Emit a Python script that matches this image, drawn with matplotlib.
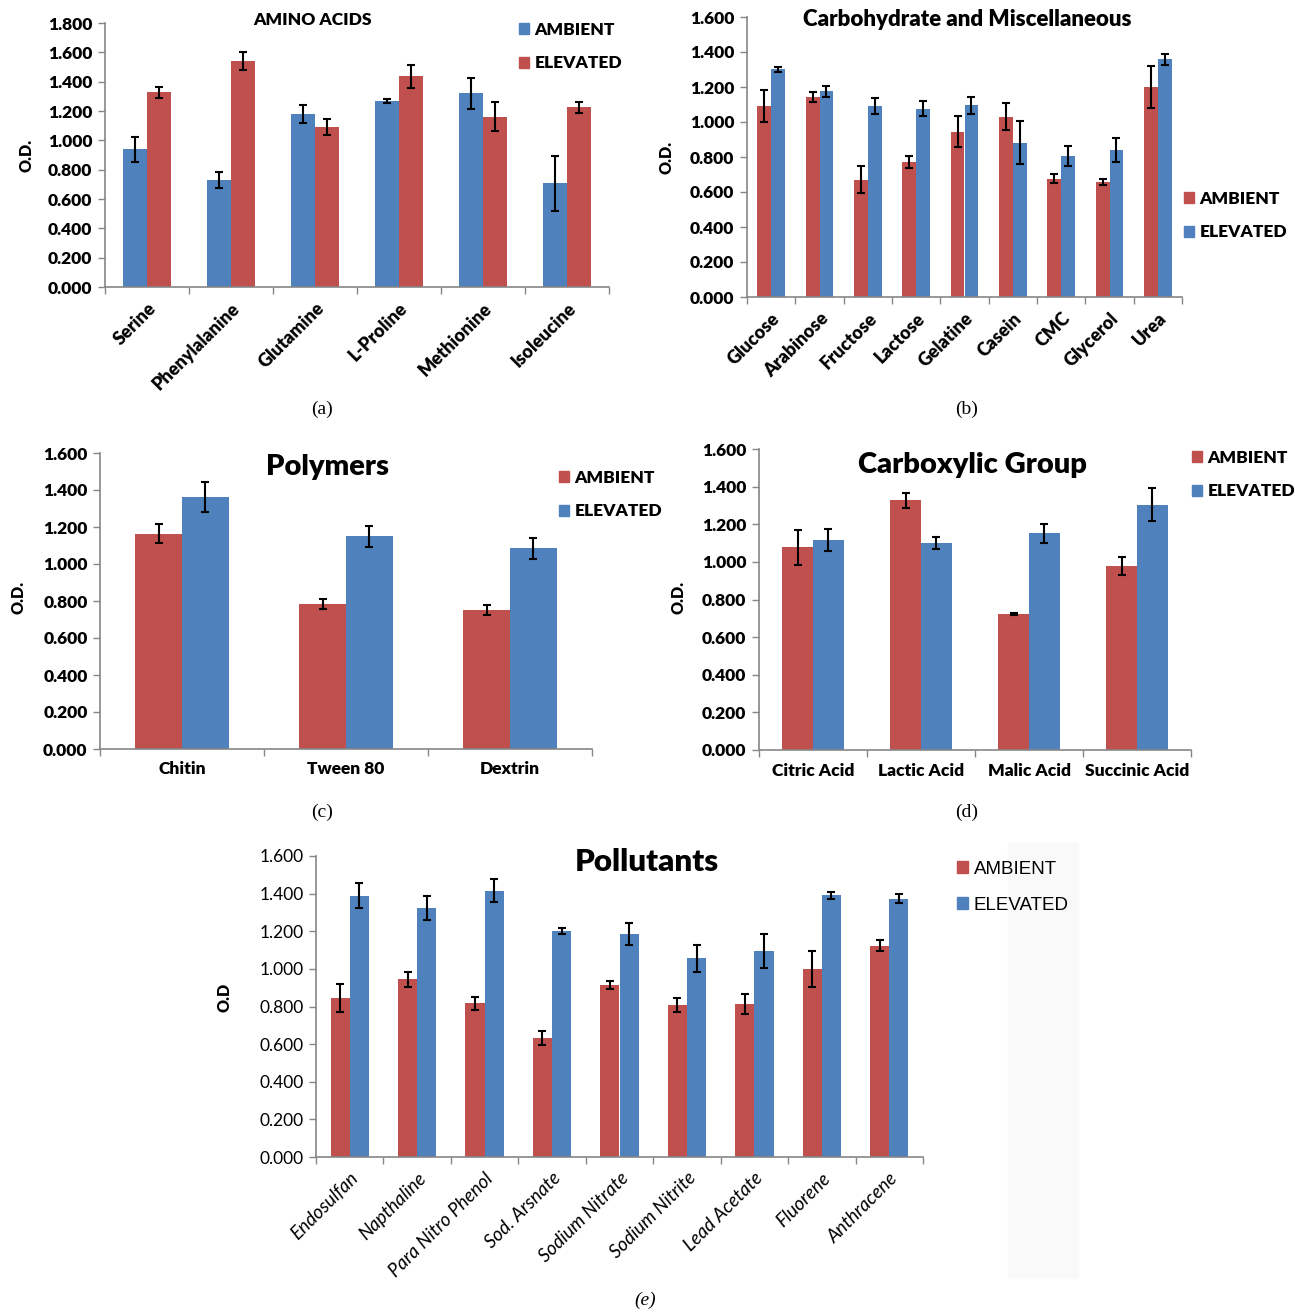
import numpy as np
import matplotlib
matplotlib.use('Agg')
import matplotlib.pyplot as plt
from matplotlib.patches import Rectangle, Patch
from matplotlib import font_manager as fm

W, H = 1295, 1314
RED = '#C0504D'
BLUE = '#4F81BD'
AXC = '#868686'
BOLD = 'heavy'


def pick_family():
    # want a family that really has a heavy face
    for fam in ['Lato', 'Open Sans', 'Roboto', 'Noto Sans', 'Liberation Sans']:
        try:
            f = fm.findfont(fm.FontProperties(family=fam, weight=BOLD), fallback_to_default=False)
        except Exception:
            continue
        name = f.lower().replace('semibold', '')
        if 'bold' in name or 'black' in name or 'heavy' in name:
            return fam
    return 'DejaVu Sans'


FONT = [pick_family(), 'DejaVu Sans']

# (a) amino acids
amino_names = ['Serine', 'Phenylalanine', 'Glutamine', 'L-Proline', 'Methionine', 'Isoleucine']
amino_ambient = [0.939, 0.727, 1.178, 1.267, 1.321, 0.706]
amino_ambient_err = [0.085, 0.055, 0.060, 0.015, 0.107, 0.187]
amino_elevated = [1.328, 1.540, 1.091, 1.438, 1.162, 1.226]
amino_elevated_err = [0.038, 0.063, 0.055, 0.079, 0.100, 0.038]

# (b) carbohydrate and miscellaneous
carb_names = ['Glucose', 'Arabinose', 'Fructose', 'Lactose', 'Gelatine', 'Casein', 'CMC', 'Glycerol', 'Urea']
carb_ambient = [1.091, 1.143, 0.669, 0.771, 0.945, 1.029, 0.676, 0.657, 1.200]
carb_ambient_err = [0.090, 0.030, 0.077, 0.035, 0.087, 0.077, 0.025, 0.015, 0.119]
carb_elevated = [1.301, 1.175, 1.091, 1.076, 1.095, 0.882, 0.806, 0.840, 1.358]
carb_elevated_err = [0.015, 0.030, 0.044, 0.044, 0.048, 0.121, 0.055, 0.067, 0.030]

# (c) polymers
poly_names = ['Chitin', 'Tween 80', 'Dextrin']
poly_ambient = [1.163, 0.784, 0.753]
poly_ambient_err = [0.052, 0.029, 0.027]
poly_elevated = [1.363, 1.149, 1.084]
poly_elevated_err = [0.080, 0.055, 0.058]

# (d) carboxylic group
carbox_names = ['Citric Acid', 'Lactic Acid', 'Malic Acid', 'Succinic Acid']
carbox_ambient = [1.077, 1.327, 0.722, 0.977]
carbox_ambient_err = [0.095, 0.038, 0.005, 0.049]
carbox_elevated = [1.116, 1.102, 1.151, 1.304]
carbox_elevated_err = [0.060, 0.031, 0.050, 0.087]

# (e) pollutants
poll_names = ['Endosulfan', 'Napthaline', 'Para Nitro Phenol', 'Sod. Arsnate', 'Sodium Nitrate',
              'Sodium Nitrite', 'Lead Acetate', 'Fluorene', 'Anthracene']
poll_ambient = [0.845, 0.944, 0.817, 0.631, 0.914, 0.808, 0.813, 1.000, 1.123]
poll_ambient_err = [0.072, 0.040, 0.035, 0.038, 0.020, 0.038, 0.052, 0.097, 0.030]
poll_elevated = [1.388, 1.324, 1.416, 1.200, 1.186, 1.056, 1.096, 1.391, 1.374]
poll_elevated_err = [0.067, 0.065, 0.063, 0.017, 0.058, 0.073, 0.092, 0.017, 0.022]


def px_axes(fig, x0, y0, x1, y1):
    return fig.add_axes([x0 / W, 1 - y1 / H, (x1 - x0) / W, (y1 - y0) / H])


def draw_panel(fig, box, names, amb, amb_err, elev, elev_err, ymax, colors,
               rot=45, tick_weight=BOLD, tick_style='normal', tick_size=12.5, ytick_weight=BOLD):
    ax = px_axes(fig, *box)
    n = len(names)
    x = np.arange(n) + 0.5
    w = 0.285
    ax.bar(x - w / 2, amb, w, color=colors[0], zorder=2)
    ax.bar(x + w / 2, elev, w, color=colors[1], zorder=2)
    ax.errorbar(x - w / 2, amb, yerr=amb_err, fmt='none', ecolor='black', elinewidth=1.5,
                capsize=3, capthick=1.5, zorder=3)
    ax.errorbar(x + w / 2, elev, yerr=elev_err, fmt='none', ecolor='black', elinewidth=1.5,
                capsize=3, capthick=1.5, zorder=3)
    ax.set_xlim(0, n)
    ax.set_ylim(0, ymax)
    yt = np.arange(0, ymax + 0.001, 0.2)
    ax.set_yticks(yt)
    ax.set_yticklabels(['%.3f' % v for v in yt], fontfamily=FONT, fontweight=ytick_weight, fontsize=12.5)
    ax.set_xticks(np.arange(n + 1))
    ax.set_xticklabels([])
    ax.set_xticks(x, minor=True)
    if rot:
        ax.set_xticklabels(names, minor=True, rotation=rot, ha='right', rotation_mode='anchor',
                           fontfamily=FONT, fontweight=tick_weight, fontstyle=tick_style, fontsize=tick_size)
    else:
        ax.set_xticklabels(names, minor=True, fontfamily=FONT, fontweight=tick_weight, fontsize=tick_size)
    ax.tick_params(axis='x', which='minor', length=0, pad=9)
    ax.tick_params(axis='both', which='major', length=5, color=AXC, width=1, pad=4)
    for s in ['top', 'right']:
        ax.spines[s].set_visible(False)
    for s in ['left', 'bottom']:
        ax.spines[s].set_color(AXC)
        ax.spines[s].set_linewidth(1.2)
    return ax


def legend(fig, ax, x, y, colors, size=12.5, weight=BOLD, family=None):
    handles = [Patch(color=colors[0], label='AMBIENT'), Patch(color=colors[1], label='ELEVATED')]
    ax.legend(handles=handles, loc='upper left', bbox_to_anchor=(x / W, 1 - y / H),
              bbox_transform=fig.transFigure, frameon=False, handlelength=0.6, handleheight=0.6,
              handletextpad=0.3, labelspacing=1.0, borderpad=0, borderaxespad=0,
              prop={'family': family or FONT, 'weight': weight, 'size': size})


def title(fig, x, y, text, size):
    fig.text(x / W, 1 - y / H, text, ha='center', va='center', fontfamily=FONT,
             fontweight=BOLD, fontsize=size)


fig = plt.figure(figsize=(W / 100, H / 100), dpi=100)

# faint background block at right of panel (e)
fig.patches.append(Rectangle((1008 / W, 1 - 1278 / H), 70 / W, 435 / H, transform=fig.transFigure,
                             color='#f9f9f9', zorder=-5))

ax = draw_panel(fig, (105, 23, 609, 287), amino_names, amino_ambient, amino_ambient_err,
                amino_elevated, amino_elevated_err, 1.8, (BLUE, RED), tick_size=13)
legend(fig, ax, 519, 22, (BLUE, RED))
title(fig, 312, 20, 'AMINO ACIDS', 12.5)

ax = draw_panel(fig, (747, 17, 1182, 297), carb_names, carb_ambient, carb_ambient_err,
                carb_elevated, carb_elevated_err, 1.6, (RED, BLUE), tick_size=13)
legend(fig, ax, 1184, 191, (RED, BLUE))
title(fig, 967, 20, 'Carbohydrate and Miscellaneous', 16)

ax = draw_panel(fig, (100, 453, 592, 749), poly_names, poly_ambient, poly_ambient_err,
                poly_elevated, poly_elevated_err, 1.6, (RED, BLUE), rot=0)
legend(fig, ax, 559, 470, (RED, BLUE))
title(fig, 328, 467, 'Polymers', 21)

ax = draw_panel(fig, (759, 449, 1191, 750), carbox_names, carbox_ambient, carbox_ambient_err,
                carbox_elevated, carbox_elevated_err, 1.6, (RED, BLUE), rot=0)
legend(fig, ax, 1192, 450, (RED, BLUE))
title(fig, 972, 465, 'Carboxylic Group', 21)

ax = draw_panel(fig, (316, 856, 923, 1157), poll_names, poll_ambient, poll_ambient_err,
                poll_elevated, poll_elevated_err, 1.6, (RED, BLUE), tick_weight='normal',
                tick_style='italic', tick_size=13.5, ytick_weight='normal')
legend(fig, ax, 957, 861, (RED, BLUE), size=13.5, weight='normal', family=['Liberation Sans'])
title(fig, 647, 862, 'Pollutants', 22.5)

# y labels
for (lx, ly, lab) in [(27, 155, 'O.D.'), (667, 157, 'O.D.'), (18, 597, 'O.D.'),
                      (679, 597, 'O.D.'), (224, 997, 'O.D')]:
    fig.text(lx / W, 1 - ly / H, lab, rotation=90, ha='center', va='center', fontfamily=FONT,
             fontweight=BOLD, fontsize=11.5)

# panel captions
for (cx, cy, cap, st) in [(322, 409, '(a)', 'normal'), (967, 409, '(b)', 'normal'),
                          (322, 812, '(c)', 'normal'), (967, 812, '(d)', 'normal'),
                          (645, 1300, '(e)', 'italic')]:
    fig.text(cx / W, 1 - cy / H, cap, ha='center', va='center', fontfamily='Liberation Serif',
             fontstyle=st, fontsize=14)

fig.savefig('out.png', dpi=100)
